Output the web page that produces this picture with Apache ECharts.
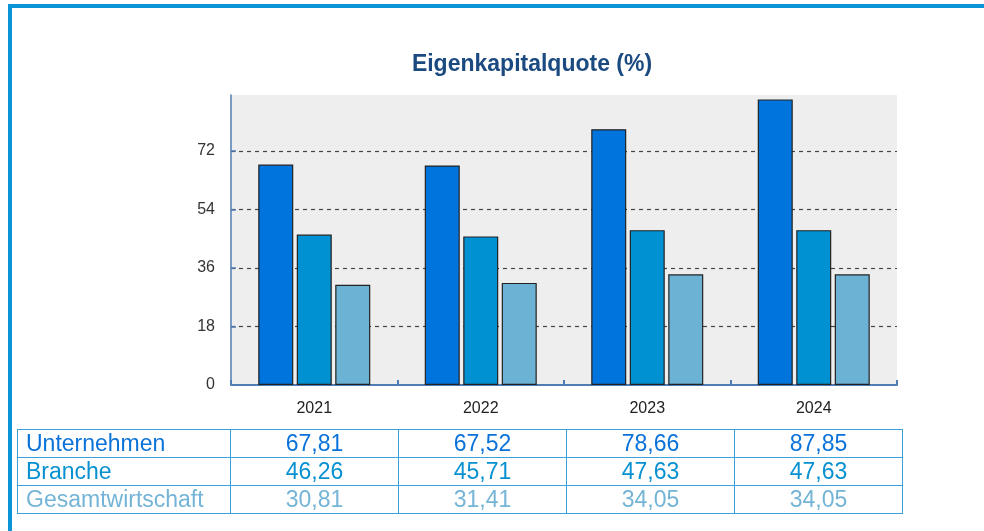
<!DOCTYPE html>
<html lang="de">
<head>
  <meta charset="UTF-8">
  <title>Eigenkapitalquote</title>
  <style>
    body { margin: 0; padding: 0; background: #fff; }
    .frame {
      position: absolute; left: 8px; top: 4px; width: 976px; height: 527px;
      border-left: 4px solid #0a96d6; border-top: 4px solid #0a96d6;
      box-sizing: border-box;
    }
    #chart { position: absolute; left: 0; top: 0; width: 984px; height: 531px; }
    table.werte {
      position: absolute; left: 17px; top: 429px; width: 885px;
      border-collapse: collapse; table-layout: fixed;
      font-family: "Liberation Sans", Arial, sans-serif; font-size: 23px;
    }
    table.werte td {
      border: 1px solid #3aa2da; height: 27px; padding: 0; line-height: 27px;
      text-align: center; overflow: hidden; white-space: nowrap;
    }
    table.werte td.name { text-align: left; padding-left: 8px; }
  </style>
</head>
<body>
  <div class="frame"></div>
  <div id="chart"></div>
  <table class="werte" id="werte"></table>

  <script src="https://cdn.jsdelivr.net/npm/echarts@6/dist/echarts.min.js"></script>
  <script>
    var jahre = ['2021', '2022', '2023', '2024'];
    var unternehmen = [67.81, 67.52, 78.66, 87.85];
    var branche = [46.26, 45.71, 47.63, 47.63];
    var gesamtwirtschaft = [30.81, 31.41, 34.05, 34.05];
    var yTicks = [0, 18, 36, 54, 72];

    var reihen = [
      { name: 'Unternehmen', data: unternehmen, color: '#0074dd', text: '#0a72d8' },
      { name: 'Branche', data: branche, color: '#0091d2', text: '#0791d0' },
      { name: 'Gesamtwirtschaft', data: gesamtwirtschaft, color: '#6cb2d4', text: '#74b4d6' }
    ];

    var chart = echarts.init(document.getElementById('chart'));

    var option = {
      animation: false,
      title: {
        text: 'Eigenkapitalquote (%)',
        left: 527,
        textAlign: 'center',
        top: 48,
        textStyle: {
          fontFamily: 'Liberation Sans',
          fontSize: 23,
          fontWeight: 'bold',
          color: '#1b4a80'
        }
      },
      grid: {
        left: 231, right: 87, top: 95, bottom: 146,
        show: true, backgroundColor: '#eeeeee', borderWidth: 0
      },
      xAxis: {
        type: 'category',
        data: jahre,
        axisLine: { lineStyle: { color: '#4f7db3', width: 2 } },
        axisTick: { show: true, inside: true, length: 5, lineStyle: { color: '#4f7db3', width: 2 } },
        axisLabel: { color: '#222', fontFamily: 'Liberation Sans', fontSize: 16, margin: 16 }
      },
      yAxis: {
        type: 'value',
        min: 0,
        max: 89.2,
        interval: 18,
        axisLine: { show: true, lineStyle: { color: '#4f7db3', width: 1.5 } },
        axisTick: { show: true, inside: true, length: 5, lineStyle: { color: '#4f7db3', width: 1.5 } },
        axisLabel: {
          color: '#333', fontFamily: 'Liberation Sans', fontSize: 16, margin: 16,
          showMaxLabel: false,
          formatter: function (v) { return yTicks.indexOf(v) >= 0 ? String(v) : ''; }
        },
        splitLine: {
          show: true, showMinLine: false, showMaxLine: false,
          lineStyle: { color: '#444', width: 1.2, type: [4, 4] }
        }
      },
      series: reihen.map(function (r) {
        return {
          name: r.name,
          type: 'bar',
          data: r.data,
          barWidth: 35,
          barGap: '10%',
          itemStyle: { color: r.color, borderColor: '#222', borderWidth: 1.2 }
        };
      })
    };

    chart.setOption(option);

    // Wertetabelle unter dem Diagramm
    function fmt(v) { return v.toFixed(2).replace('.', ','); }
    var html = '<colgroup><col style="width:213px">' +
      jahre.map(function () { return '<col style="width:168px">'; }).join('') + '</colgroup>';
    reihen.forEach(function (r) {
      html += '<tr style="color:' + r.text + '"><td class="name">' + r.name + '</td>' +
        r.data.map(function (v) { return '<td>' + fmt(v) + '</td>'; }).join('') + '</tr>';
    });
    document.getElementById('werte').innerHTML = html;
  </script>
</body>
</html>
